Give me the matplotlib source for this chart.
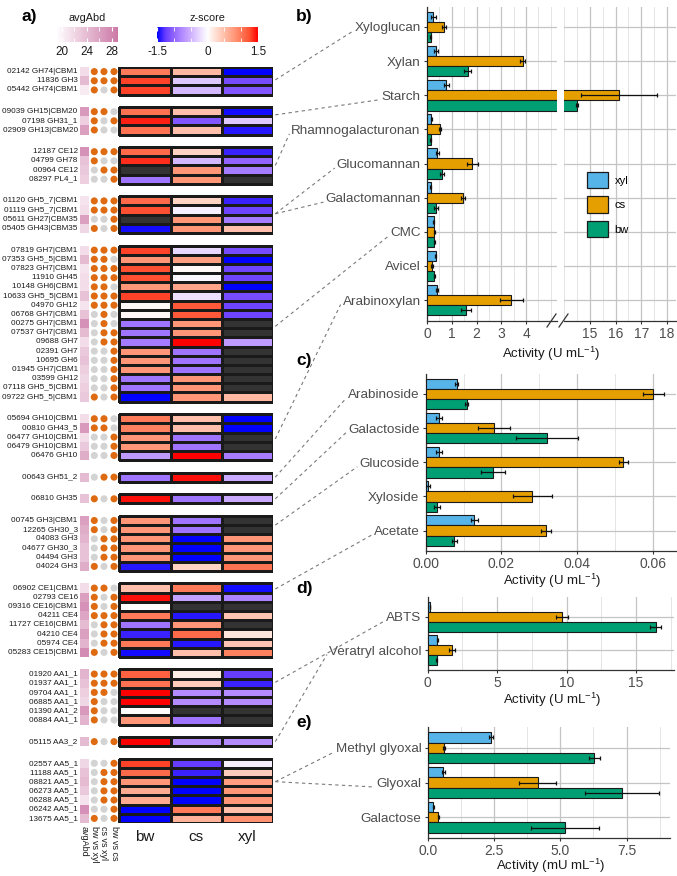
import numpy as np
import matplotlib
matplotlib.use('Agg')
import matplotlib.pyplot as plt
from matplotlib.colors import LinearSegmentedColormap, Normalize
from matplotlib.lines import Line2D
from matplotlib.patches import Patch
from matplotlib.ticker import MultipleLocator, FixedLocator

# ---------------- heatmap data (panel a) ----------------
group_sizes = [3, 3, 4, 4, 17, 5, 1, 1, 6, 8, 6, 1, 7]
gene_labels = [
    "02142 GH74|CBM1", "11836 GH3", "05442 GH74|CBM1",
    "09039 GH15|CBM20", "07198 GH31_1", "02909 GH13|CBM20",
    "12187 CE12", "04799 GH78", "00964 CE12", "08297 PL4_1",
    "01120 GH5_7|CBM1", "01119 GH5_7|CBM1", "05611 GH27|CBM35", "05405 GH43|CBM35",
    "07819 GH7|CBM1", "07353 GH5_5|CBM1", "07823 GH7|CBM1", "11910 GH45", "10148 GH6|CBM1",
    "10633 GH5_5|CBM1", "04970 GH12", "06768 GH7|CBM1", "00275 GH7|CBM1", "07537 GH7|CBM1",
    "09688 GH7", "02391 GH7", "10695 GH6", "01945 GH7|CBM1", "03599 GH12", "07118 GH5_5|CBM1",
    "09722 GH5_5|CBM1",
    "05694 GH10|CBM1", "00810 GH43_5", "06477 GH10|CBM1", "06479 GH10|CBM1", "06476 GH10",
    "00643 GH51_2",
    "06810 GH35",
    "00745 GH3|CBM1", "12265 GH30_3", "04083 GH3", "04677 GH30_3", "04494 GH3", "04024 GH3",
    "06902 CE1|CBM1", "02793 CE16", "09316 CE16|CBM1", "04211 CE4", "11727 CE16|CBM1",
    "04210 CE4", "05974 CE4", "05283 CE15|CBM1",
    "01920 AA1_1", "01937 AA1_1", "09704 AA1_1", "06885 AA1_1", "01390 AA1_2", "06884 AA1_1",
    "05115 AA3_2",
    "02557 AA5_1", "11188 AA5_1", "08821 AA5_1", "06273 AA5_1", "06288 AA5_1", "06242 AA5_1",
    "13675 AA5_1",
]
avg_abd = [
    21.5, 24, 20.5,
    26.5, 22.5, 26,
    27, 23.5, 23, 22.5,
    21, 21.5, 26, 22,
    21.5, 24, 21, 21.5, 21.5, 23.5, 21, 23.5, 27, 24, 21.5, 23, 23.5, 22.5, 22, 22.5, 23,
    21.5, 26.5, 21.5, 23, 25,
    24,
    23.5,
    26, 25, 24.5, 23.5, 23.5, 25,
    21.5, 26, 27, 25.5, 24, 26, 24.5, 27.5,
    24.5, 23.5, 22.5, 22, 26.5, 24.5,
    24,
    22, 23.5, 24, 23, 21, 27, 24,
]
nan = np.nan
z_bw = [
    1.0, 1.3, 1.3,
    1.05, 1.4, 1.05,
    1.1, 1.35, nan, -0.9,
    1.1, 1.25, nan, -1.45,
    1.3, 0.8, 1.25, 1.25, 0.8, 1.3, 0.05, 0.05, -0.9, -0.9, -0.85, 0.8, 0.8, 0.8, -0.9, -0.9, -1.5,
    1.0, 0.95, 0.8, 0.8, -0.65,
    -0.9,
    1.45,
    0.8, 0.8, 0.8, 0.8, 0.8, -1.4,
    0.5, 1.45, 0.0, 1.0, -0.9, -1.35, 1.0, -1.45,
    1.15, 1.05, 1.5, 1.5, 0.0, 0.8,
    1.5,
    1.3, 1.1, 0.8, 0.65, 0.65, -1.5, -1.5,
]
z_cs = [
    0.55, -0.35, -0.45,
    0.5, -1.1, 0.5,
    0.35, -0.45, 0.8, 0.8,
    0.35, -0.1, 0.8, 0.8,
    -0.25, 0.75, 0.05, -0.05, 0.7, -0.2, 1.2, 1.2, 0.8, 0.8, 1.5, -0.9, -0.9, -0.9, 0.8, 0.8, 0.8,
    0.5, 0.5, -0.9, -0.9, 1.5,
    1.45,
    -0.9,
    -0.9, -0.9, -1.5, -1.5, -1.5, 0.35,
    1.0, -0.6, nan, -1.4, 0.8, 1.1, -1.4, 0.5,
    0.15, 0.4, -0.75, -0.75, nan, -0.9,
    -0.75,
    -1.25, -1.35, -1.5, -1.5, -1.5, 1.0, 0.6,
]
z_xyl = [
    -1.5, -1.15, -1.1,
    -1.45, -0.35, -1.4,
    -1.35, -1.0, -0.85, nan,
    -1.35, -1.2, -0.85, 0.5,
    -1.15, -1.5, -1.2, -1.2, -1.5, -1.15, -1.2, -1.2, nan, nan, -0.65, nan, nan, nan, nan, nan, 0.55,
    -1.5, -1.5, nan, nan, -0.85,
    -0.55,
    -0.55,
    nan, nan, 0.8, 0.8, 0.8, 1.05,
    -1.45, -0.8, nan, 0.45, nan, 0.2, 0.45, 0.95,
    -1.25, -1.35, -0.75, -0.75, nan, nan,
    -0.75,
    -0.1, 0.4, 0.75, 0.8, 0.8, 0.5, 0.85,
]
# significance flags: bw vs xyl, cs vs xyl, bw vs cs
sig_flags = [
    "111", "111", "101",
    "110", "101", "100",
    "111", "100", "011", "001",
    "111", "111", "001", "101",
    "111", "110", "111", "111", "110", "111", "111", "010", "010", "011", "011",
    "001", "001", "001", "001", "001", "101",
    "110", "110", "001", "001", "001",
    "011",
    "101",
    "101", "101", "011", "011", "011", "101",
    "110", "101", "101", "111", "011", "011", "011", "101",
    "111", "111", "110", "100", "100", "100",
    "101",
    "001", "011", "011", "011", "011", "001", "101",
]
hm_columns = ["bw", "cs", "xyl"]
dot_columns = ["bw vs xyl", "cs vs xyl", "bw vs cs"]

# ---------------- activity data (panels b-e) ----------------
b_substrates = ["Xyloglucan", "Xylan", "Starch", "Rhamnogalacturonan", "Glucomannan",
                "Galactomannan", "CMC", "Avicel", "Arabinoxylan"]
b_xyl = [0.25, 0.37, 0.77, 0.18, 0.42, 0.15, 0.27, 0.35, 0.41]
b_xyl_err = [0.10, 0.08, 0.10, 0.02, 0.07, 0.03, 0.02, 0.03, 0.05]
b_cs = [0.69, 3.87, 16.14, 0.53, 1.83, 1.44, 0.29, 0.21, 3.40]
b_cs_err = [0.07, 0.10, 1.47, 0.03, 0.22, 0.08, 0.02, 0.05, 0.47]
b_bw = [0.15, 1.64, 14.50, 0.15, 0.59, 0.37, 0.30, 0.30, 1.56]
b_bw_err = [0.02, 0.15, 0.05, 0.02, 0.08, 0.07, 0.02, 0.03, 0.20]

c_substrates = ["Arabinoside", "Galactoside", "Glucoside", "Xyloside", "Acetate"]
c_xyl = [0.0082, 0.0035, 0.0035, 0.0007, 0.0129]
c_xyl_err = [0.0004, 0.0008, 0.0008, 0.0005, 0.0009]
c_cs = [0.0602, 0.0181, 0.0523, 0.0282, 0.0318]
c_cs_err = [0.0028, 0.0043, 0.0012, 0.0051, 0.0013]
c_bw = [0.0108, 0.0322, 0.0179, 0.0029, 0.0076]
c_bw_err = [0.0003, 0.0082, 0.0032, 0.0008, 0.0006]

d_substrates = ["ABTS", "Veratryl alcohol"]
d_xyl = [0.17, 0.69]
d_xyl_err = [0.02, 0.02]
d_cs = [9.65, 1.73]
d_cs_err = [0.45, 0.20]
d_bw = [16.4, 0.64]
d_bw_err = [0.40, 0.03]

e_substrates = ["Methyl glyoxal", "Glyoxal", "Galactose"]
e_xyl = [2.38, 0.59, 0.21]
e_xyl_err = [0.07, 0.05, 0.02]
e_cs = [0.61, 4.15, 0.40]
e_cs_err = [0.03, 0.70, 0.02]
e_bw = [6.29, 7.34, 5.18]
e_bw_err = [0.20, 1.40, 1.30]

# which gene group links to which substrate label (group index, row within group)
link_substrate = ["Xyloglucan", "Starch", "Rhamnogalacturonan", "Glucomannan", "Galactomannan",
                  "CMC", "Arabinoxylan", "Arabinoside", "Galactoside", "Glucoside", "Acetate",
                  "ABTS", "Veratryl alcohol", "Methyl glyoxal", "Glyoxal"]
link_group = [0, 1, 2, 3, 3, 4, 5, 6, 7, 8, 9, 10, 11, 12, 12]
link_row = [0.9, 0.35, 1.5, 1.4, 1.4, 8.3, 2.2, 0.0, 0.0, 0.5, 0.1, 0.9, 0.0, 2.0, 2.0]

W, H = 677, 876
COL_XYL, COL_CS, COL_BW = '#56B4E9', '#E69F00', '#009E73'
GRID_MAJ, GRID_MIN = '#C4C4C4', '#E4E4E4'
TXT = '#4D4D4D'


def px_axes(fig, x0, y0, x1, y1):
    # axes from pixel box (origin top-left)
    return fig.add_axes([x0 / W, 1 - y1 / H, (x1 - x0) / W, (y1 - y0) / H])


def px_fig(x, y):
    return x / W, 1 - y / H


def draw_bars(ax, series):
    for k, (vals, errs, col) in enumerate(series):
        yy = np.arange(len(vals)) + (k - 1) * 0.3
        ax.barh(yy, vals, height=0.3, color=col, edgecolor='#1a1a1a', linewidth=0.8, zorder=3)
        ax.errorbar(vals, yy, xerr=errs, fmt='none', ecolor='#111111', elinewidth=0.9,
                    capsize=1.5, capthick=0.9, zorder=4)


def style_bar_axis(ax, cats, show_labels=True):
    n = len(cats)
    ax.set_ylim(n - 0.4, -0.6)
    ax.set_yticks(range(n))
    if show_labels:
        ax.set_yticklabels(cats, fontsize=9.7, color=TXT)
        ax.tick_params(axis='y', length=2.5, color='#333333', pad=2)
    else:
        ax.tick_params(axis='y', left=False, labelleft=False)
    ax.tick_params(axis='x', length=2.5, color='#333333', labelsize=10, labelcolor=TXT, pad=2)
    ax.tick_params(axis='x', which='minor', length=0)
    ax.grid(axis='y', which='major', color=GRID_MAJ, lw=0.9)
    ax.grid(axis='x', which='major', color=GRID_MAJ, lw=0.9)
    ax.grid(axis='x', which='minor', color=GRID_MIN, lw=0.7)
    ax.set_axisbelow(True)
    for s in ['top', 'right']:
        ax.spines[s].set_visible(False)
    ax.spines['left'].set_visible(show_labels)
    for s in ['left', 'bottom']:
        ax.spines[s].set_color('#333333')
        ax.spines[s].set_linewidth(0.9)


def main():
    plt.rcParams['font.family'] = ['Liberation Sans', 'DejaVu Sans']
    plt.rcParams['mathtext.default'] = 'regular'
    fig = plt.figure(figsize=(W / 100, H / 100), dpi=100)

    # colour maps (z-score ramp approximating a Lab blue-white-red gradient)
    z_cmap = LinearSegmentedColormap.from_list('z', [
        '#0000FF', '#673DFF', '#9265FF', '#B38BFF', '#CFB1FF', '#E8D8FF', '#FFFFFF',
        '#FFDFD4', '#FFBFAA', '#FF9E81', '#FF7B5A', '#FF5232', '#FF0000'])
    z_cmap.set_bad('#333333')
    z_norm = Normalize(-1.5, 1.5)
    abd_cmap = LinearSegmentedColormap.from_list('abd', ['#FFFDFE', '#CC79A7'])
    abd_norm = Normalize(19.2, 28.8)

    # ---------------- panel a: heatmap ----------------
    GAP = 1.36
    total = sum(group_sizes) + GAP * (len(group_sizes) - 1)
    ax_hm = px_axes(fig, 79.3, 67, 273.3, 823)
    ax_hm.set_xlim(-0.779, 3.0)
    ax_hm.set_ylim(total, 0)
    ax_hm.axis('off')

    z_all = np.column_stack([z_bw, z_cs, z_xyl])
    group_starts = []
    row_y = []
    idx = 0
    for k, n in enumerate(group_sizes):
        start = idx + k * GAP
        group_starts.append(start)
        yedges = start + np.arange(n + 1)
        # avgAbd tile column
        ax_hm.pcolormesh([-0.775, -0.596], yedges, np.array(avg_abd[idx:idx + n])[:, None],
                         cmap=abd_cmap, norm=abd_norm, antialiased=False)
        # z-score cells
        ax_hm.pcolormesh([0, 1, 2, 3], yedges, np.ma.masked_invalid(z_all[idx:idx + n]),
                         cmap=z_cmap, norm=z_norm, edgecolors='#1a1a1a', linewidth=0.9)
        for i in range(n):
            row_y.append(start + i + 0.5)
        idx += n

    row_y = np.array(row_y)
    for lab, yc in zip(gene_labels, row_y):
        ax_hm.text(-0.81, yc, lab, ha='right', va='center', fontsize=5.9, color='#1a1a1a')

    dot_x = [-0.487, -0.298, -0.103]
    for j, xd in enumerate(dot_x):
        cols = ['#DE6A12' if f[j] == '1' else '#D3D3D3' for f in sig_flags]
        ax_hm.scatter(np.full(len(row_y), xd), row_y, s=26, c=cols, linewidths=0, zorder=3)

    for j, name in enumerate(hm_columns):
        ax_hm.text(j + 0.5, total + 0.8, name, ha='center', va='top', fontsize=11, color='#1a1a1a')
    for xd, name in zip([-0.686] + dot_x, ['avgAbd'] + dot_columns):
        ax_hm.text(xd, total + 0.35, name, ha='center', va='top', rotation=270,
                   fontsize=6.5, color='#1a1a1a')

    # colour bar legends
    ax_cb1 = px_axes(fig, 56.9, 27, 117, 42)
    ax_cb1.imshow(np.linspace(19.2, 28.8, 256)[None, :], cmap=abd_cmap, norm=abd_norm,
                  aspect='auto', extent=(19.2, 28.8, 0, 1))
    ax_cb1.set_xlim(19.2, 28.8)
    ax_cb1.xaxis.set_major_locator(FixedLocator([20, 24, 28]))
    ax_cb1.xaxis.set_minor_locator(FixedLocator([22, 26]))
    ax_cb2 = px_axes(fig, 157, 27, 258, 42)
    ax_cb2.imshow(np.linspace(-1.5, 1.5, 256)[None, :], cmap=z_cmap, norm=z_norm,
                  aspect='auto', extent=(-1.5, 1.5, 0, 1))
    ax_cb2.set_xlim(-1.5, 1.5)
    ax_cb2.xaxis.set_major_locator(FixedLocator([-1.5, 0, 1.5]))
    ax_cb2.xaxis.set_minor_locator(MultipleLocator(0.5))
    ax_cb2.set_xticklabels(['-1.5', '0', '1.5'])
    for ax in (ax_cb1, ax_cb2):
        ax.set_yticks([])
        for s in ax.spines.values():
            s.set_visible(False)
        ax.tick_params(axis='x', which='both', direction='in', color='white', length=3,
                       top=True, bottom=True, labelsize=8.4, labelcolor='#1a1a1a', pad=3)
    fig.text(*px_fig(87, 18), 'avgAbd', ha='center', va='center', fontsize=7.8, color='#1a1a1a')
    fig.text(*px_fig(207, 18), 'z-score', ha='center', va='center', fontsize=7.8, color='#1a1a1a')

    # ---------------- panel b: broken axis ----------------
    ax_b1 = px_axes(fig, 427, 6.5, 557, 320.5)
    ax_b2 = px_axes(fig, 564, 6.5, 676, 320.5)
    b_series = [(b_xyl, b_xyl_err, COL_XYL), (b_cs, b_cs_err, COL_CS), (b_bw, b_bw_err, COL_BW)]
    for ax in (ax_b1, ax_b2):
        draw_bars(ax, b_series)
    ax_b1.set_xlim(0, 5.25)
    ax_b1.set_xticks([0, 1, 2, 3, 4])
    ax_b1.xaxis.set_minor_locator(MultipleLocator(0.5))
    ax_b2.set_xlim(13.99, 18.35)
    ax_b2.set_xticks([15, 16, 17, 18])
    ax_b2.xaxis.set_minor_locator(MultipleLocator(0.5))
    style_bar_axis(ax_b1, b_substrates)
    style_bar_axis(ax_b2, b_substrates, show_labels=False)
    # break marks
    for x0, x1 in [(547, 556), (559, 568)]:
        fig.add_artist(Line2D([x0 / W, x1 / W], [1 - 327 / H, 1 - 314 / H], color='#333333', lw=0.9))

    handles = [Patch(facecolor=c, edgecolor='#1a1a1a', linewidth=0.9, label=l)
               for c, l in [(COL_XYL, 'xyl'), (COL_CS, 'cs'), (COL_BW, 'bw')]]
    fig.legend(handles=handles, loc='upper left', bbox_to_anchor=px_fig(587, 172),
               bbox_transform=fig.transFigure, frameon=False, fontsize=8, borderpad=0,
               borderaxespad=0, handlelength=1.9, handleheight=1.9, labelspacing=0.72,
               handletextpad=0.6)

    # ---------------- panels c, d, e ----------------
    ax_c = px_axes(fig, 425.7, 373.5, 676, 551)
    draw_bars(ax_c, [(c_xyl, c_xyl_err, COL_XYL), (c_cs, c_cs_err, COL_CS), (c_bw, c_bw_err, COL_BW)])
    ax_c.set_xlim(0, 0.0662)
    ax_c.set_xticks([0, 0.02, 0.04, 0.06])
    ax_c.set_xticklabels(['0.00', '0.02', '0.04', '0.06'])
    ax_c.xaxis.set_minor_locator(FixedLocator([0.01, 0.03, 0.05]))
    style_bar_axis(ax_c, c_substrates)

    ax_d = px_axes(fig, 427.7, 596.7, 674, 670)
    draw_bars(ax_d, [(d_xyl, d_xyl_err, COL_XYL), (d_cs, d_cs_err, COL_CS), (d_bw, d_bw_err, COL_BW)])
    ax_d.set_xlim(0, 17.73)
    ax_d.set_xticks([0, 5, 10, 15])
    ax_d.xaxis.set_minor_locator(FixedLocator([2.5, 7.5, 12.5, 17.5]))
    style_bar_axis(ax_d, d_substrates)

    ax_e = px_axes(fig, 427.7, 727, 670, 838)
    draw_bars(ax_e, [(e_xyl, e_xyl_err, COL_XYL), (e_cs, e_cs_err, COL_CS), (e_bw, e_bw_err, COL_BW)])
    ax_e.set_xlim(0, 9.14)
    ax_e.set_xticks([0, 2.5, 5, 7.5])
    ax_e.set_xticklabels(['0.0', '2.5', '5.0', '7.5'])
    ax_e.xaxis.set_minor_locator(FixedLocator([1.25, 3.75, 6.25, 8.75]))
    style_bar_axis(ax_e, e_substrates)

    # axis titles and panel letters
    title_kw = dict(ha='center', va='center', fontsize=9.5, color='#1a1a1a')
    fig.text(*px_fig(551, 354), 'Activity (U mL$^{-1}$)', **title_kw)
    fig.text(*px_fig(552, 581), 'Activity (U mL$^{-1}$)', **title_kw)
    fig.text(*px_fig(552, 700), 'Activity (U mL$^{-1}$)', **title_kw)
    fig.text(*px_fig(551, 866), 'Activity (mU mL$^{-1}$)', **title_kw)
    for letter, (x, y) in zip(['a)', 'b)', 'c)', 'd)', 'e)'],
                              [(22, 17), (296, 17), (296, 361), (296, 589), (296, 722)]):
        fig.text(*px_fig(x, y), letter, ha='left', va='center', fontsize=12.5, fontweight='bold')

    # ---------------- dashed connectors ----------------
    fig.canvas.draw()
    renderer = fig.canvas.get_renderer()
    label_lookup = {}
    for ax in (ax_b1, ax_c, ax_d, ax_e):
        for t in ax.get_yticklabels():
            label_lookup[t.get_text()] = t.get_window_extent(renderer)
    inv = fig.transFigure.inverted()
    for name, g, r in zip(link_substrate, link_group, link_row):
        sx, sy = ax_hm.transData.transform((3.0, group_starts[g] + r + 0.5))
        bb = label_lookup[name]
        ex, ey = bb.x0 - 2, (bb.y0 + bb.y1) / 2 - 3
        (fx0, fy0), (fx1, fy1) = inv.transform([(sx + 2, sy), (ex, ey)])
        fig.add_artist(Line2D([fx0, fx1], [fy0, fy1], color='#7a7a7a', lw=0.8,
                              linestyle=(0, (3, 3))))

    plt.savefig('out.png', dpi=100)
    plt.close()


if __name__ == "__main__":
    main()
